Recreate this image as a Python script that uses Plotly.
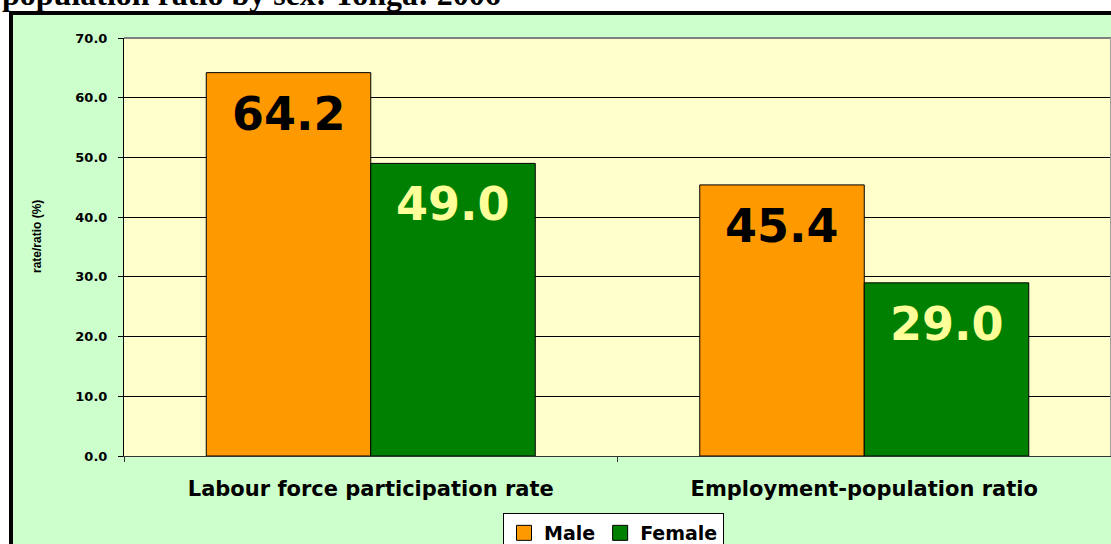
import plotly.graph_objects as go

# ---- data ----
categories = ["Labour force participation rate", "Employment-population ratio"]
male = [64.2, 45.4]
female = [49.0, 29.0]
series_names = ["Male", "Female"]
y_ticks = [0, 10, 20, 30, 40, 50, 60, 70]
y_tick_labels = ["0.0", "10.0", "20.0", "30.0", "40.0", "50.0", "60.0", "70.0"]
title_text = "population ratio by sex: Tonga: 2006"
y_title = "rate/ratio (%)"

# ---- layout geometry (pixels) ----
W, H = 1111, 544
ML, MR, MT, MB = 124, 0, 38, 88
PW = W - ML - MR
PH = H - MT - MB
BARGAP = 1 / 3


def px_x(px):
    return (px - ML) / PW


def px_y(py):
    return (H - MB - py) / PH


ORANGE = "#FF9900"
GREEN = "#008000"
FONT = "DejaVu Sans"

fig = go.Figure()
fig.add_trace(go.Bar(x=categories, y=male, name=series_names[0],
                     marker=dict(color=ORANGE, line=dict(color="#000000", width=1)),
                     showlegend=False))
fig.add_trace(go.Bar(x=categories, y=female, name=series_names[1],
                     marker=dict(color=GREEN, line=dict(color="#000000", width=1)),
                     showlegend=False))
# legend entries with larger square swatches
fig.add_trace(go.Scatter(x=[None], y=[None], mode="markers", name=series_names[0],
                         marker=dict(symbol="square", size=15, color=ORANGE,
                                     line=dict(color="#000000", width=1))))
fig.add_trace(go.Scatter(x=[None], y=[None], mode="markers", name=series_names[1],
                         marker=dict(symbol="square", size=15, color=GREEN,
                                     line=dict(color="#000000", width=1))))

# value labels inside the top of each bar
cat_px = PW / len(categories)
bar_px = cat_px * (1 - BARGAP) / 2
annotations = []
for vals, shift, col in ((male, -bar_px / 2, "#000000"), (female, bar_px / 2, "#FFFF99")):
    for c, v in zip(categories, vals):
        annotations.append(dict(x=c, y=v, xref="x", yref="y", text=f"{v:.1f}",
                                showarrow=False, xshift=shift, yshift=-41,
                                yanchor="middle", xanchor="center",
                                font=dict(family=FONT, size=46, color=col, weight="bold")))

# y-axis title
annotations.append(dict(x=px_x(37), y=px_y(237), xref="paper", yref="paper",
                        text=y_title, textangle=-90, showarrow=False,
                        xanchor="center", yanchor="middle",
                        font=dict(family="Liberation Sans", size=12, color="#000000",
                                  weight="bold")))
# partially visible title above the chart
annotations.append(dict(x=px_x(0), y=px_y(14), xref="paper", yref="paper",
                        text=title_text, showarrow=False,
                        xanchor="left", yanchor="bottom",
                        font=dict(family="Liberation Serif", size=32, color="#000000",
                                  weight="bold")))

shapes = [
    # outer chart area (green with thick black border)
    dict(type="rect", xref="paper", yref="paper", layer="below",
         x0=px_x(11), x1=px_x(1130), y0=px_y(570), y1=px_y(13),
         fillcolor="#CCFFCC", line=dict(color="#000000", width=4)),
    # plot area background
    dict(type="rect", xref="x domain", yref="y domain", layer="below",
         x0=0, x1=1, y0=0, y1=1, fillcolor="#FFFFCC", line=dict(width=0)),
    # gray top & right border of plot area
    dict(type="line", xref="x domain", yref="y domain", layer="above",
         x0=0, x1=1, y0=1, y1=1, line=dict(color="#808080", width=2)),
    dict(type="line", xref="x domain", yref="y domain", layer="above",
         x0=1, x1=1, y0=0, y1=1, line=dict(color="#A0A0A0", width=2)),
]

fig.update_layout(
    width=W, height=H,
    margin=dict(l=ML, r=MR, t=MT, b=MB, pad=0, autoexpand=False),
    paper_bgcolor="#FFFFFF",
    plot_bgcolor="rgba(0,0,0,0)",
    barmode="group", bargap=BARGAP, bargroupgap=0,
    font=dict(family=FONT, color="#000000", weight="bold"),
    annotations=annotations,
    shapes=shapes,
    showlegend=True,
    legend=dict(orientation="h", x=px_x(503), y=px_y(513), xanchor="left", yanchor="top",
                bgcolor="#FFFFFF", bordercolor="#000000", borderwidth=1,
                font=dict(family=FONT, size=19, color="#000000", weight="bold"),
                itemsizing="trace", tracegroupgap=0),
)
fig.update_xaxes(
    type="category", categoryorder="array", categoryarray=categories,
    range=[-0.5, len(categories) - 0.5],
    showline=True, linecolor="#333333", linewidth=1,
    ticks="outside", ticklen=5, tickcolor="#333333", tickson="boundaries",
    tickfont=dict(family=FONT, size=21, color="#000000", weight="bold"),
    ticklabelstandoff=14,
    showgrid=False, zeroline=False,
)
fig.update_yaxes(
    range=[0, 70], tickvals=y_ticks, ticktext=y_tick_labels,
    showline=True, linecolor="#000000", linewidth=1,
    ticks="outside", ticklen=5, tickcolor="#000000",
    tickfont=dict(family=FONT, size=13, color="#000000", weight="bold"),
    ticklabelstandoff=8,
    showgrid=True, gridcolor="#000000", gridwidth=1, zeroline=False,
)

fig.write_html("out.html",
               config={"displayModeBar": False},
               post_script="document.body.style.margin='0px';document.body.style.overflow='hidden';")
